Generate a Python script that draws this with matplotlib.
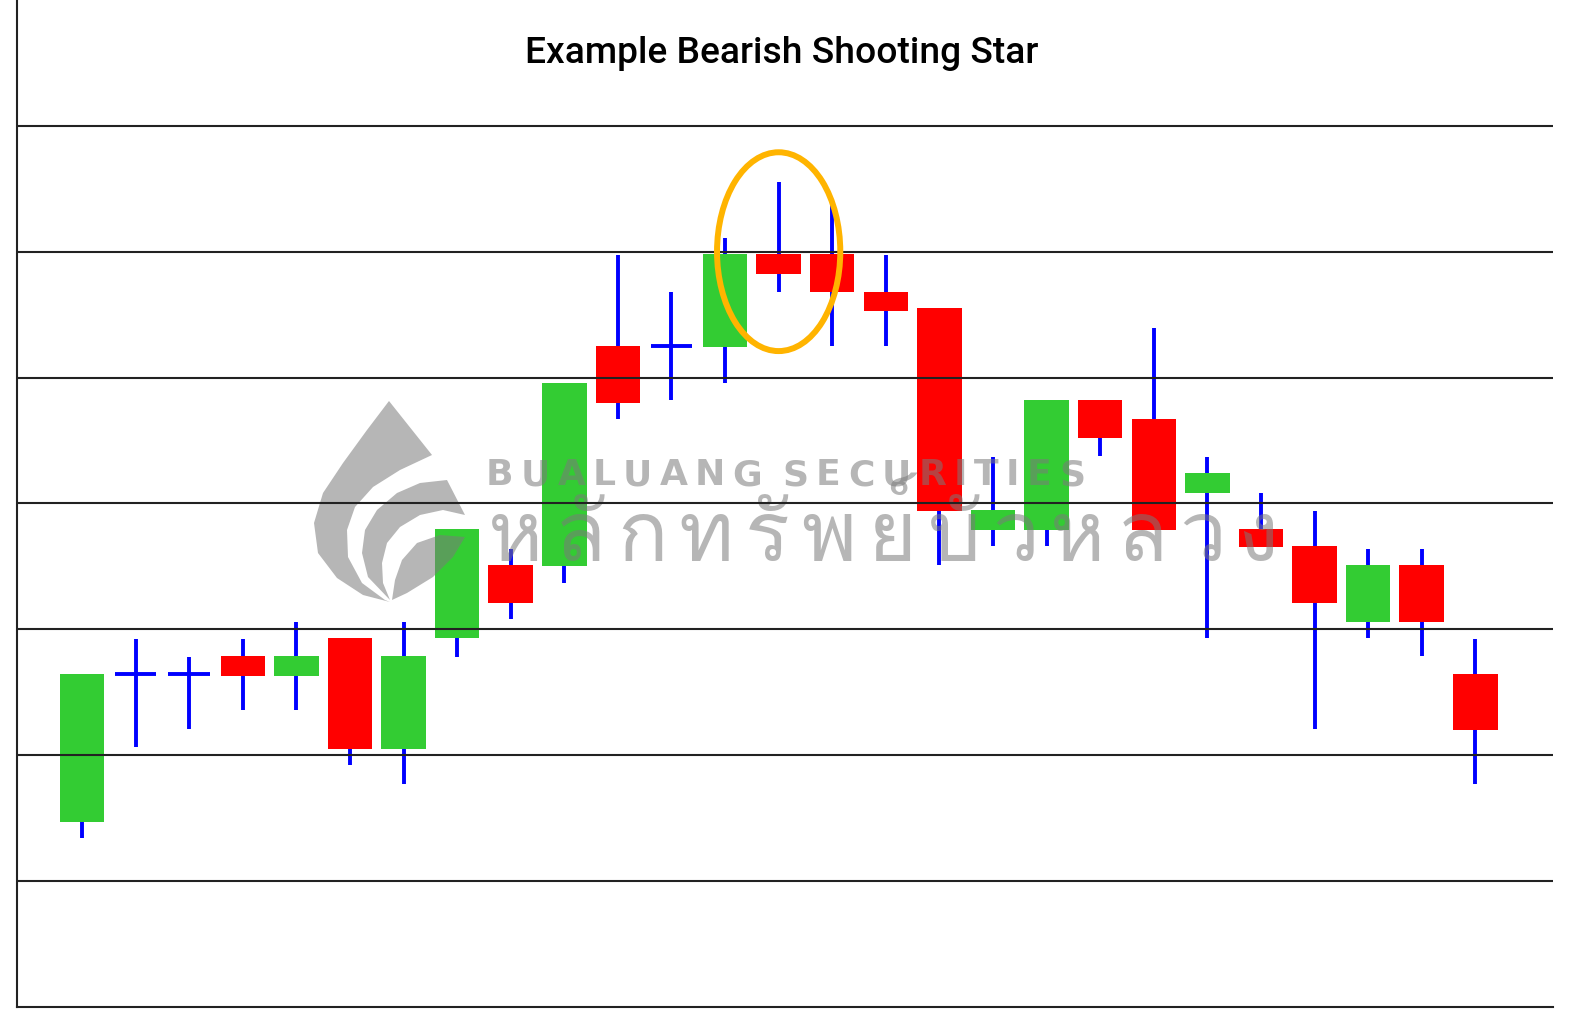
import matplotlib
matplotlib.use("Agg")
import matplotlib.pyplot as plt
from matplotlib.patches import Rectangle, Ellipse, Polygon
from matplotlib import transforms, font_manager, ft2font
from matplotlib.textpath import TextPath
from matplotlib.font_manager import FontProperties

W, H, DPI = 1572, 1032, 100

# candles, in grid units (gridlines sit at 1..7)
opens  = [1.47, 2.64, 2.64, 2.79, 2.63, 2.93, 2.05, 2.93, 3.51, 3.50, 5.25, 5.25, 5.24, 5.98,
          5.98, 5.68, 5.55, 3.79, 3.79, 4.82, 4.67, 4.08, 3.80, 3.66, 3.06, 3.51, 2.64]
highs  = [2.64, 2.92, 2.78, 2.92, 3.06, 2.93, 3.06, 3.80, 3.64, 4.96, 5.97, 5.68, 6.11, 6.55,
          6.40, 5.97, 5.55, 4.37, 4.82, 4.82, 5.39, 4.37, 4.08, 3.94, 3.64, 3.64, 2.92]
lows   = [1.34, 2.06, 2.21, 2.36, 2.36, 1.92, 1.77, 2.78, 3.08, 3.37, 4.67, 4.82, 4.96, 5.68,
          5.25, 5.25, 3.51, 3.66, 3.66, 4.38, 3.79, 2.93, 3.65, 2.21, 2.93, 2.79, 1.77]
closes = [2.64, 2.64, 2.64, 2.63, 2.79, 2.05, 2.79, 3.80, 3.21, 4.96, 4.80, 5.25, 5.98, 5.82,
          5.68, 5.53, 3.94, 3.95, 4.82, 4.52, 3.79, 4.24, 3.65, 3.21, 3.51, 3.06, 2.20]
grid_levels = [1, 2, 3, 4, 5, 6, 7]
star_idx = 13
title = "Example Bearish Shooting Star"
brand_en = "BUALUANG SECURITIES"
brand_th = "หลักทรัพย์บัวหลวง"

GREEN, RED, BLUE = "#33cc33", "#ff0000", "#0000ff"

# find something that can draw Thai
thai_font = "DejaVu Sans"
for f in font_manager.fontManager.ttflist:
    try:
        if 0x0E2B in ft2font.FT2Font(f.fname).get_charmap():
            thai_font = f.name
            break
    except Exception:
        pass

fig = plt.figure(figsize=(W / DPI, H / DPI), dpi=DPI)
ax = fig.add_axes([17 / W, 1 - 1006.7 / H, (1553 - 17) / W, 1006.7 / H])
ax.set_xlim(-1.213, 27.45)
ax.set_ylim(0, 8)
ax.set_xticks([])
ax.set_yticks([])
for s in ["top", "right"]:
    ax.spines[s].set_visible(False)
for s in ["left", "bottom"]:
    ax.spines[s].set_color("#222222")
    ax.spines[s].set_linewidth(1.5)
    ax.spines[s].set_zorder(6)

bw = 0.83
for i, (o, h, l, c) in enumerate(zip(opens, highs, lows, closes)):
    ax.vlines(i, l, h, color=BLUE, lw=2.8, zorder=2)
    if o == c:
        ax.hlines(o, i - 0.39, i + 0.39, color=BLUE, lw=2.8, zorder=2)
    else:
        ax.add_patch(Rectangle((i - bw / 2, min(o, c)), bw, abs(c - o),
                               fc=GREEN if c > o else RED, ec="none", zorder=3))

for g in grid_levels:
    ax.axhline(g, color="#222222", lw=1.5, zorder=6)

ax.add_patch(Ellipse((star_idx, 6.0), 2.30, 1.58, fill=False, ec="#ffb400", lw=4.3, zorder=7))

# watermark, placed in figure pixels (y down)
pix = transforms.Affine2D().scale(1 / W, -1 / H).translate(0, 1) + fig.transFigure
wm = dict(color="#7a7a7a", alpha=0.55, zorder=4)

logo = [
    [(389, 401), (432, 455), (400, 470), (373, 487), (355, 507), (347, 530), (348, 557),
     (362, 583), (385, 600), (390, 602), (363, 595), (337, 578), (318, 553), (314, 523),
     (323, 493), (343, 463), (367, 430)],
    [(447, 480), (465, 515), (443, 510), (420, 515), (400, 527), (387, 543), (382, 563),
     (383, 583), (390, 600), (368, 577), (362, 553), (365, 530), (377, 510), (397, 493),
     (420, 483)],
    [(465, 537), (440, 535), (417, 543), (402, 560), (395, 580), (392, 600), (407, 593),
     (433, 577), (453, 557)],
]
for pts in logo:
    ax.add_patch(Polygon(pts, closed=True, transform=pix, ec="none", fc=wm["color"],
                         alpha=wm["alpha"], zorder=4, clip_on=False))

renderer = fig.canvas.get_renderer()


def spread(pieces, x0, x1, y, space_w=0, **kw):
    # lay the pieces out one by one so they fill x0..x1
    items = []
    for p in pieces:
        t = ax.text(0, y, p, transform=pix, va="baseline", ha="left", **kw)
        w = space_w if p == " " else t.get_window_extent(renderer).width
        items.append((t, w))
    gap = (x1 - x0 - sum(w for _, w in items)) / (len(items) - 1)
    x = x0
    for t, w in items:
        t.set_x(x)
        x += w + gap


spread(list(brand_en), 486, 1085, 485, space_w=6, fontsize=26, fontweight="bold",
       family="DejaVu Sans", **wm)

# Thai: size from the height of a plain consonant, then spread the clusters
marks = "\u0e31\u0e34\u0e35\u0e36\u0e37\u0e38\u0e39\u0e3a\u0e47\u0e48\u0e49\u0e4a\u0e4b\u0e4c\u0e4d\u0e4e"
clusters = []
for ch in brand_th:
    if clusters and ch in marks:
        clusters[-1] += ch
    else:
        clusters.append(ch)
h100 = TextPath((0, 0), "\u0e01", size=100, prop=FontProperties(family=thai_font)).get_extents().height
fs_th = 47 / (h100 / 100) * 72 / DPI
spread(clusters, 488, 1278, 561, fontsize=fs_th, family=[thai_font, "DejaVu Sans"], **wm)

fig.text(781.5 / W, (H - 63) / H, title, ha="center", va="baseline",
         fontsize=26.7, family="Roboto", fontweight="medium", color="black")

fig.savefig("out.png", dpi=DPI)
